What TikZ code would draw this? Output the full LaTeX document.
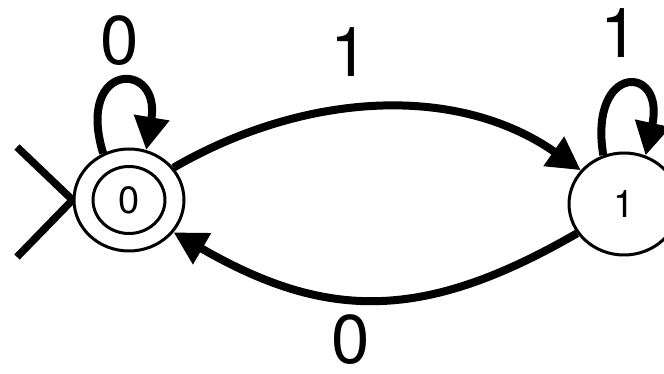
\documentclass[tikz,border=0pt]{standalone}
\usepackage{fontspec}
\setmainfont{TeX Gyre Heros}
\usetikzlibrary{arrows.meta,shapes.geometric}
\tikzset{
  statenode/.style={ellipse,draw,line width=3pt,minimum width=110pt,minimum height=102pt,inner sep=0pt,font=\fontsize{38}{44}\selectfont},
  innerring/.style={ellipse,draw,line width=3pt,minimum width=72pt,minimum height=67pt,inner sep=0pt},
  edgeline/.style={line width=8pt,-{Triangle[length=33pt,width=34pt]}},
  startline/.style={line width=7.5pt},
  biglabel/.style={font=\fontsize{69}{80}\selectfont,inner sep=0pt}
}
\begin{document}
\begin{tikzpicture}[x=1pt,y=1pt]
\useasboundingbox (0,0) rectangle (664,374);
\node[statenode] (s0) at (129,174) {0};
\node[innerring] (s0in) at (s0) {};
\node[statenode] (s1) at (624,170) {1};
% start marker
\coordinate (st1) at (17,227);
\coordinate (st2) at (17,117);
\draw[startline] (st1) -- (s0.west);
\draw[startline] (st2) -- (s0.west);
% transitions
\draw[edgeline] (s0.36) to[out=30,in=145,looseness=0.95] (s1.142);
\draw[edgeline] (s1.212) to[out=210,in=-30,looseness=1.12] (s0.-36);
% loops
\draw[edgeline] (s0.119) .. controls +(-28,92) and +(15,90) .. (s0.71);
\draw[edgeline] (s1.113) .. controls +(-15,92) and +(20,92) .. (s1.66);
% labels
\node[biglabel] (l00) at (120,333.5) {0};
\node[biglabel] (l01) at (350,322) {1};
\node[biglabel] (l11) at (620,341) {1};
\node[biglabel] (l10) at (351,34) {0};
\end{tikzpicture}
\end{document}
